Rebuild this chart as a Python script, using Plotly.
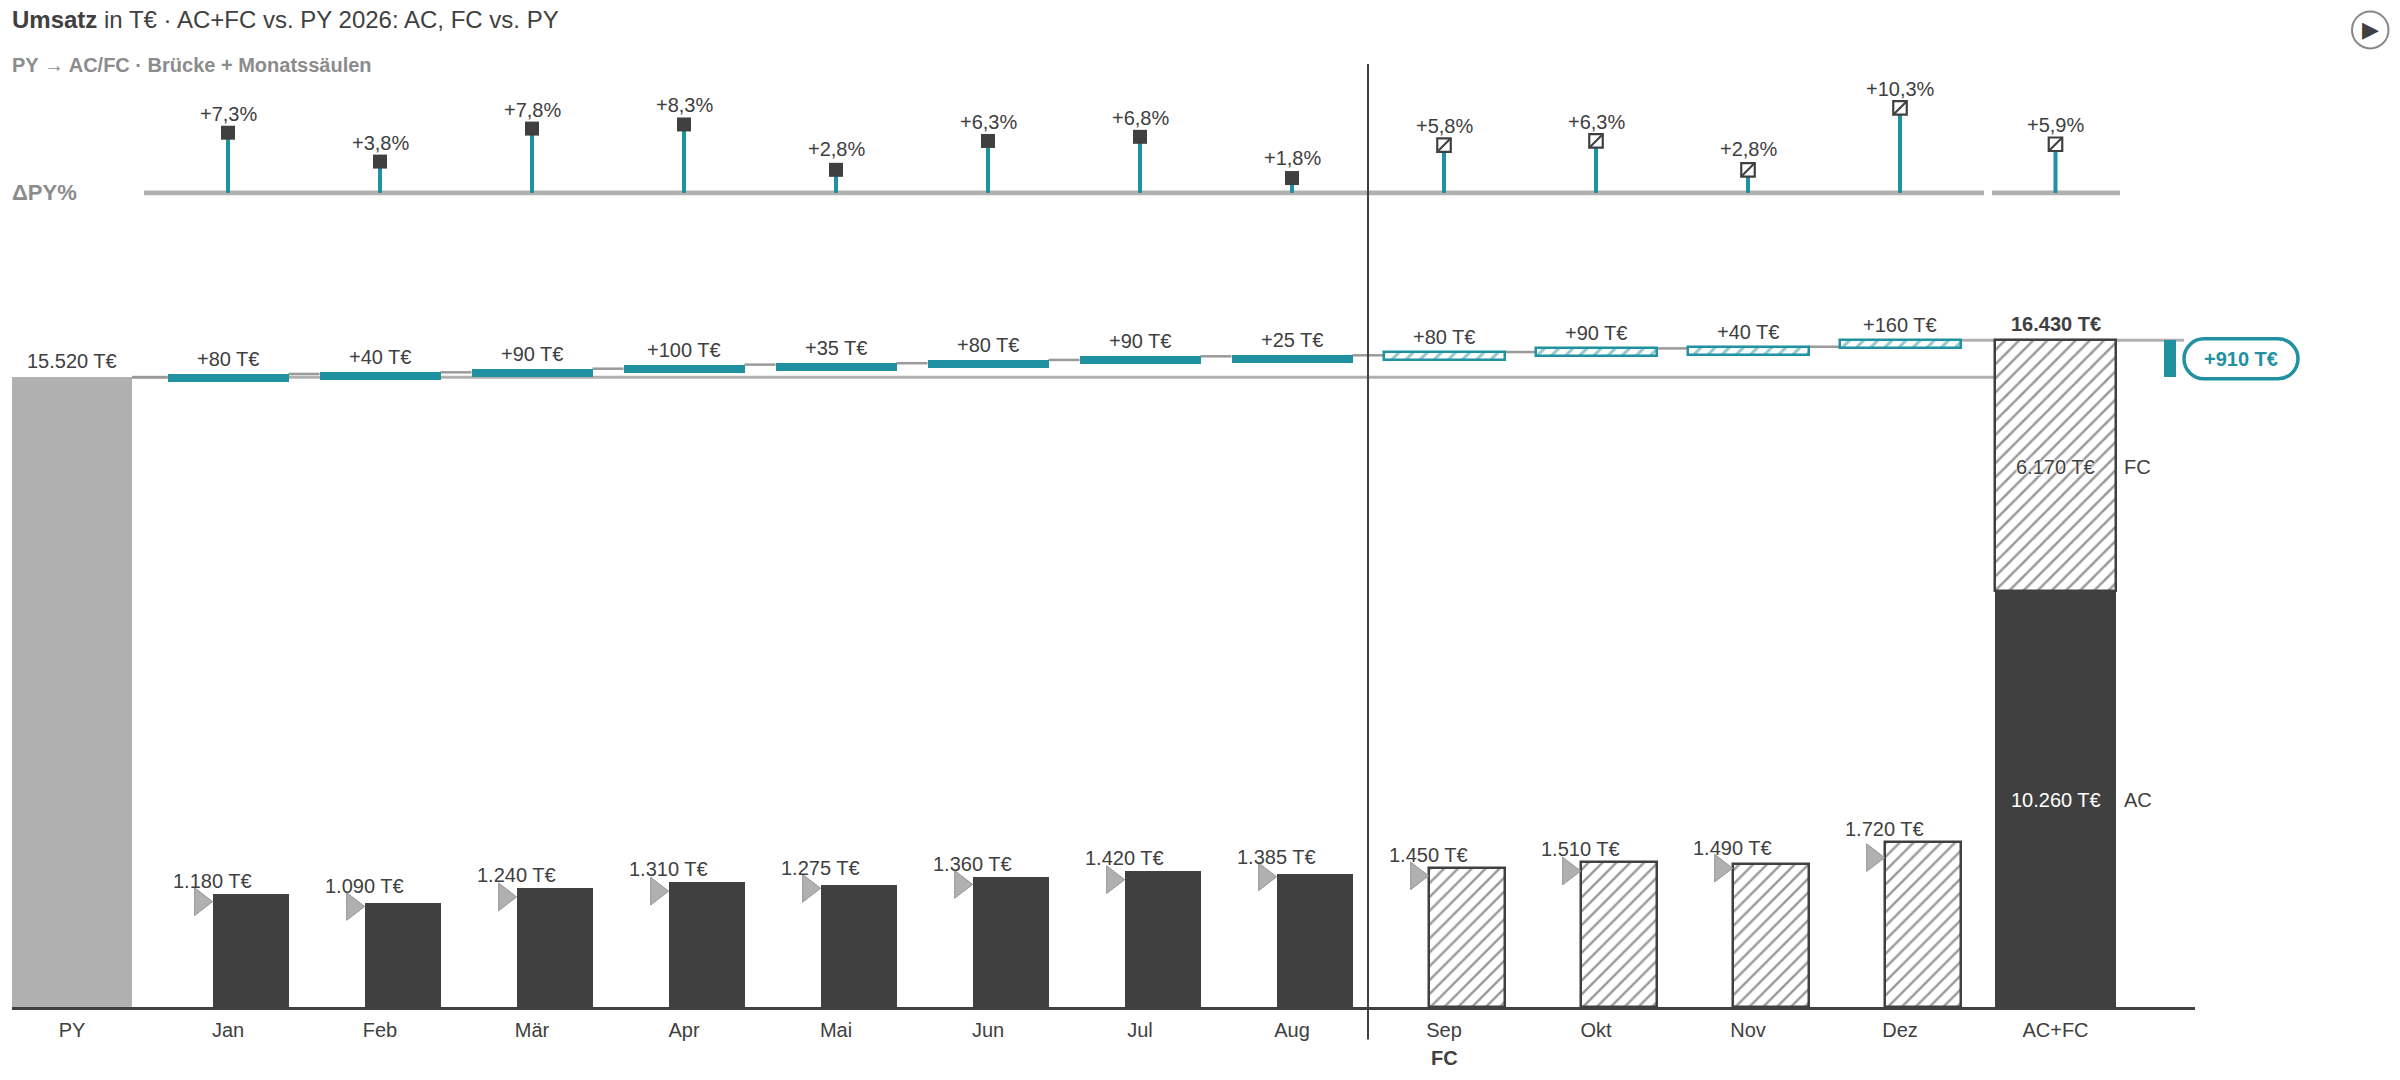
import plotly.graph_objects as go

# ---------- data ----------
months = ["Jan", "Feb", "Mär", "Apr", "Mai", "Jun", "Jul", "Aug", "Sep", "Okt", "Nov", "Dez"]
monthly_values = [1180, 1090, 1240, 1310, 1275, 1360, 1420, 1385, 1450, 1510, 1490, 1720]
monthly_delta = [80, 40, 90, 100, 35, 80, 90, 25, 80, 90, 40, 160]
delta_pct = [7.3, 3.8, 7.8, 8.3, 2.8, 6.3, 6.8, 1.8, 5.8, 6.3, 2.8, 10.3]
delta_pct_labels = ["+7,3%", "+3,8%", "+7,8%", "+8,3%", "+2,8%", "+6,3%", "+6,8%", "+1,8%",
                    "+5,8%", "+6,3%", "+2,8%", "+10,3%"]
py_total = 15520
ac_total = 10260
fc_total = 6170
grand_total = 16430
total_delta = 910
total_pct = 5.9
n_ac = 8  # Jan..Aug are actuals

# ---------- style ----------
DARK = "#404040"
HATCH = "#363636"
GRAY = "#b0b0b0"
LINE = "#9a9a9a"
TEAL = "#1f91a0"
MUTED = "#8c8c8c"
FONT = "Liberation Sans"

# page geometry in px
PL, PR, PT, PB = 12, 2195, 0, 1007.5
STEP = 152
X0 = 228


def ix(px):
    return (px - X0) / STEP


def xp(px):
    return (px - PL) / (PR - PL)


def yp(py):
    return (PB - py) / (PB - PT)


S1 = 0.0958   # px per unit, month columns
S2 = 0.0406   # px per unit, bridge and total
S3 = 8.25     # px per percentage point
BASE3 = 193

x_m = list(range(12))
x_py = ix(72)
x_tot = ix(2055.5)
BR_W = 121 / STEP
COL_W = 76 / STEP
COL_OFF = 0.15
TRI_OFF = -0.18

month_py = [v - d for v, d in zip(monthly_values, monthly_delta)]
cum = []
run = py_total
for d in monthly_delta:
    run += d
    cum.append(run)
levels = [py_total] + cum

fig = go.Figure()

# ---------- month columns (y) ----------
fig.add_trace(go.Bar(x=[i + COL_OFF for i in x_m[:n_ac]], y=monthly_values[:n_ac], width=COL_W,
                     marker=dict(color=DARK, line=dict(width=0)), yaxis="y", hoverinfo="skip"))
fig.add_trace(go.Bar(x=[i + COL_OFF for i in x_m[n_ac:]], y=monthly_values[n_ac:], width=COL_W,
                     marker=dict(color="white", line=dict(color=DARK, width=2.5),
                                 pattern=dict(shape="/", size=9.8, solidity=0.25, fgcolor=HATCH, bgcolor="white")),
                     yaxis="y", hoverinfo="skip"))
fig.add_trace(go.Scatter(x=[i + TRI_OFF for i in x_m], y=month_py, mode="markers", yaxis="y", hoverinfo="skip",
                         marker=dict(symbol="triangle-right", size=24, color=GRAY, line=dict(color="#969696", width=1))))

# ---------- reference lines and connectors (y2, lies below the bars on y4) ----------
ref_x = [ix(132), ix(1995), None, ix(1962), ix(2184)]
ref_y = [py_total, py_total, None, grand_total, grand_total]
fig.add_trace(go.Scatter(x=ref_x, y=ref_y, mode="lines", yaxis="y2", hoverinfo="skip",
                         line=dict(color=GRAY, width=3)))
con_x, con_y = [], []
for i, lv in enumerate(levels[:-1]):
    left = ix(132) if i == 0 else (i - 1) + BR_W / 2
    con_x += [left, i - BR_W / 2, None]
    con_y += [lv, lv, None]
fig.add_trace(go.Scatter(x=con_x, y=con_y, mode="lines", yaxis="y2", hoverinfo="skip",
                         line=dict(color=LINE, width=2.5)))

# ---------- bridge and total (y4) ----------
BR_H = 8 / S2
fig.add_trace(go.Bar(x=x_m[:n_ac], y=[BR_H] * n_ac, base=[c - BR_H for c in cum[:n_ac]], width=BR_W,
                     marker=dict(color=TEAL, line=dict(width=0)), yaxis="y4", hoverinfo="skip"))
fig.add_trace(go.Bar(x=x_m[n_ac:], y=[BR_H] * (12 - n_ac), base=[c - BR_H for c in cum[n_ac:]], width=BR_W,
                     marker=dict(color="white", line=dict(color=TEAL, width=2.5),
                                 pattern=dict(shape="/", size=10, solidity=0.3, fgcolor=TEAL, bgcolor="white")),
                     yaxis="y4", hoverinfo="skip"))
fig.add_trace(go.Bar(x=[x_py], y=[py_total], width=120 / STEP, marker=dict(color=GRAY, line=dict(width=0)),
                     yaxis="y4", hoverinfo="skip"))
fig.add_trace(go.Bar(x=[x_tot], y=[ac_total], width=BR_W, marker=dict(color=DARK, line=dict(width=0)),
                     yaxis="y4", hoverinfo="skip"))
fig.add_trace(go.Bar(x=[x_tot], y=[fc_total], base=[ac_total], width=BR_W,
                     marker=dict(color="white", line=dict(color=DARK, width=2.5),
                                 pattern=dict(shape="/", size=10, solidity=0.25, fgcolor=HATCH, bgcolor="white")),
                     yaxis="y4", hoverinfo="skip"))
fig.add_trace(go.Bar(x=[ix(2170)], y=[total_delta], base=[py_total], width=12 / STEP,
                     marker=dict(color=TEAL, line=dict(width=0)), yaxis="y4", hoverinfo="skip"))

# ---------- delta PY % lollipops (y3) ----------
fig.add_trace(go.Scatter(x=[ix(144), ix(1984), None, ix(1992), ix(2120)], y=[0, 0, None, 0, 0], mode="lines",
                         yaxis="y3", hoverinfo="skip", line=dict(color=GRAY, width=4.7)))
x_all = x_m + [x_tot]
pct_all = delta_pct + [total_pct]
stem_x, stem_y = [], []
for x, p in zip(x_all, pct_all):
    stem_x += [x, x, None]
    stem_y += [0, p, None]
fig.add_trace(go.Scatter(x=stem_x, y=stem_y, mode="lines", yaxis="y3", hoverinfo="skip",
                         line=dict(color=TEAL, width=4)))
fig.add_trace(go.Scatter(x=x_m[:n_ac], y=delta_pct[:n_ac], mode="markers", yaxis="y3", hoverinfo="skip",
                         marker=dict(symbol="square", size=14, color=DARK)))
fig.add_trace(go.Scatter(x=x_all[n_ac:], y=pct_all[n_ac:], mode="markers", yaxis="y3", hoverinfo="skip",
                         marker=dict(symbol="square", size=13.5, color="white", line=dict(color=DARK, width=2.2))))
fig.add_trace(go.Scatter(x=x_all[n_ac:], y=pct_all[n_ac:], mode="markers", yaxis="y3", hoverinfo="skip",
                         marker=dict(symbol="line-ne", size=13.5, color=DARK, line=dict(color=DARK, width=2.2))))

# ---------- text ----------
ann = []


def note(x, y, text, xref="x", yref="y", size=20, color=DARK, xanchor="center", yanchor="middle", yshift=0, **font):
    ann.append(dict(x=x, y=y, text=text, xref=xref, yref=yref, showarrow=False, xanchor=xanchor, yanchor=yanchor,
                    yshift=yshift, font=dict(family=FONT, size=size, color=color, **font)))


note(xp(10), yp(20), "<b>Umsatz</b> in T€ · AC+FC vs. PY 2026: AC, FC vs. PY", "paper", "paper", size=24, xanchor="left")
note(xp(10), yp(65), "<b>PY → AC/FC · Brücke + Monatssäulen</b>", "paper", "paper", color=MUTED, xanchor="left")
note(xp(10), yp(193), "<b>ΔPY%</b>", "paper", "paper", size=22, color=MUTED, xanchor="left")

for i, (v, p) in enumerate(zip(monthly_values, month_py)):
    ly = max(v + 13 / S1, p + 20 / S1)
    note(i + COL_OFF - COL_W / 2, ly, f"{v:,} T€".replace(",", "."), yref="y")
for i, (d, c) in enumerate(zip(monthly_delta, cum)):
    note(i, c, f"+{d} T€", yref="y2", yshift=15)
for x, p, t in zip(x_m, delta_pct, delta_pct_labels):
    note(x, p, t, yref="y3", yshift=20.5 if p < 3 else 19)
note(x_tot, total_pct, "+5,9%", yref="y3", yshift=19)

note(x_py, py_total, "15.520 T€", yref="y2", yshift=16)
note(x_tot, grand_total, "<b>16.430 T€</b>", yref="y2", yshift=16)
note(x_tot, ac_total + fc_total / 2, "6.170 T€", yref="y2", yshift=-1.5,
     shadow="0 0 3px #fff, 0 0 3px #fff, 0 0 2px #fff")
note(x_tot, ac_total / 2, "10.260 T€", yref="y2", color="white", yshift=-1.5)
note(ix(2122), ac_total + fc_total / 2, "FC", yref="y2", xanchor="left", yshift=-1.5)
note(ix(2122), ac_total / 2, "AC", yref="y2", xanchor="left", yshift=-1.5)
note(xp(2241), yp(359), "<b>+910 T€</b>", "paper", "paper", color=TEAL)
note(8, yp(1058.5), "<b>FC</b>", yref="paper")
note(xp(2370.5), yp(30), "▶", "paper", "paper", size=22, color=DARK)

# ---------- shapes ----------
X1, X2, Y1, Y2, R = 2184, 2298, 339, 379, 20
K = R * 0.45
pill = (f"M{xp(X1 + R)},{yp(Y1)} L{xp(X2 - R)},{yp(Y1)} "
        f"C{xp(X2 - K)},{yp(Y1)} {xp(X2)},{yp(Y1 + K)} {xp(X2)},{yp(Y1 + R)} "
        f"C{xp(X2)},{yp(Y2 - K)} {xp(X2 - K)},{yp(Y2)} {xp(X2 - R)},{yp(Y2)} "
        f"L{xp(X1 + R)},{yp(Y2)} "
        f"C{xp(X1 + K)},{yp(Y2)} {xp(X1)},{yp(Y2 - K)} {xp(X1)},{yp(Y2 - R)} "
        f"C{xp(X1)},{yp(Y1 + K)} {xp(X1 + K)},{yp(Y1)} {xp(X1 + R)},{yp(Y1)} Z")
shapes = [
    dict(type="line", xref="x", yref="paper", x0=7.5, x1=7.5, y0=yp(1040), y1=yp(64),
         line=dict(color=DARK, width=2), layer="above"),
    dict(type="path", xref="paper", yref="paper", path=pill, fillcolor="white",
         line=dict(color=TEAL, width=3.5), layer="above"),
    dict(type="circle", xref="paper", yref="paper", x0=xp(2352), x1=xp(2388.5), y0=yp(48.5), y1=yp(11.5),
         line=dict(color="#888888", width=2), fillcolor="rgba(0,0,0,0)"),
]

tick_x = [x_py] + x_m + [x_tot]
tick_t = ["PY"] + months + ["AC+FC"]
range2 = [0, (PB - PT) / S2]

fig.update_layout(
    width=2400, height=1080, autosize=False,
    margin=dict(l=PL, r=2400 - PR, t=PT, b=1080 - PB, pad=0),
    paper_bgcolor="white", plot_bgcolor="white", showlegend=False, barmode="overlay", bargap=0,
    font=dict(family=FONT, size=20, color=DARK),
    xaxis=dict(range=[ix(PL), ix(PR)], tickmode="array", tickvals=tick_x, ticktext=tick_t, showgrid=False,
               zeroline=False, showline=True, linecolor=DARK, linewidth=3, ticks="outside", ticklen=3, tickwidth=0,
               tickcolor="rgba(0,0,0,0)", tickfont=dict(family=FONT, size=20, color=DARK), fixedrange=True),
    yaxis=dict(range=[0, (PB - PT) / S1], visible=False, fixedrange=True),
    yaxis2=dict(range=range2, visible=False, overlaying="y", fixedrange=True),
    yaxis3=dict(range=[-(PB - BASE3) / S3, (BASE3 - PT) / S3], visible=False, overlaying="y", fixedrange=True),
    yaxis4=dict(range=range2, visible=False, overlaying="y", fixedrange=True),
    annotations=ann, shapes=shapes,
)

fig.write_html("out.html", config={"displayModeBar": False},
               post_script="document.body.style.margin='0';document.documentElement.style.overflow='hidden';")
